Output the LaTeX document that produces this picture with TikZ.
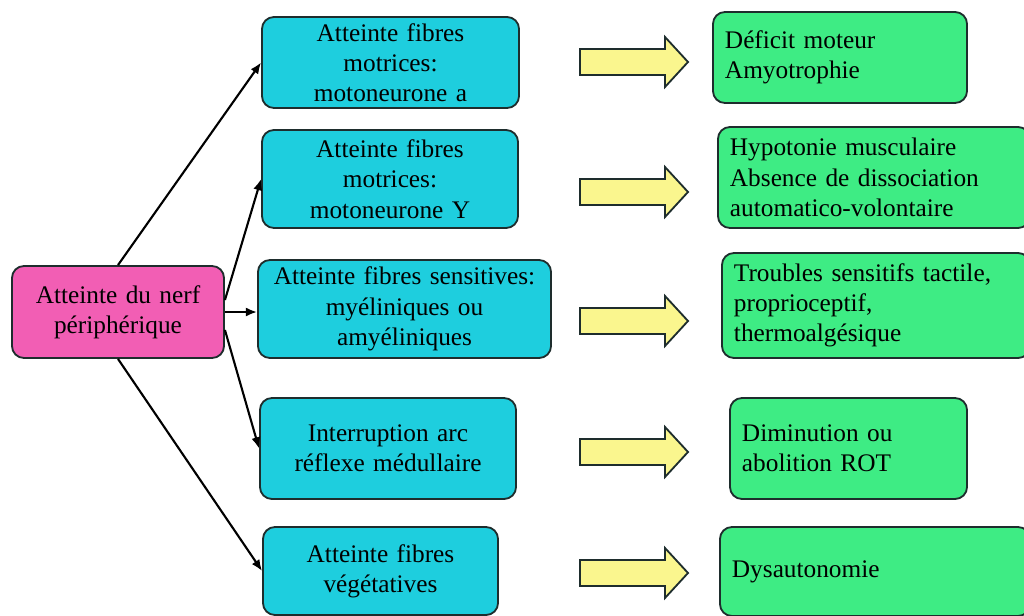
\documentclass[tikz,border=0pt]{standalone}
\usepackage{fontspec}
\setmainfont{Liberation Serif}
\usetikzlibrary{arrows.meta}

\definecolor{rose}{RGB}{242,94,180}
\definecolor{cyanbox}{RGB}{30,206,222}
\definecolor{vert}{RGB}{62,236,132}
\definecolor{jaune}{RGB}{250,246,142}
\definecolor{bord}{RGB}{30,45,45}

\begin{document}
\begin{tikzpicture}[x=0.025cm,y=-0.025cm,
    boite/.style={draw=bord,line width=1.3pt,rounded corners=0.3cm,inner xsep=0.3cm,font=\fontsize{18}{21.5}\selectfont},
    cause/.style={boite,fill=cyanbox,align=center},
    effet/.style={boite,fill=vert,align=left},
    fleche/.style={-{Latex[length=8pt,width=6.5pt]},line width=1.5pt}]
      %\draw (0,0) grid (1024,616);
      \useasboundingbox (0,0) rectangle (1024,616);
      \node [boite,fill=rose,align=center,text width=4.7cm,minimum height=2.3cm] (nerf) at (118,312) {Atteinte du nerf\\périphérique};

      \node [cause,text width=5.825cm,minimum height=2.275cm] (c1) at (390.5,62.5) {Atteinte fibres\\motrices:\\motoneurone a};
      \node [cause,text width=5.8cm,minimum height=2.45cm] (c2) at (390,179) {Atteinte fibres\\motrices:\\motoneurone Y};
      \node [cause,text width=6.725cm,minimum height=2.45cm] (c3) at (404.5,309) {Atteinte fibres sensitives:\\myéliniques ou\\amyéliniques};
      \node [cause,text width=5.8cm,minimum height=2.525cm] (c4) at (388,448.5) {Interruption arc\\réflexe médullaire};
      \node [cause,text width=5.275cm,minimum height=2.2cm] (c5) at (380.5,571) {Atteinte fibres\\végétatives};

      \node [effet,text width=5.75cm,minimum height=2.275cm] (g1) at (840,57.5) {Déficit moteur\\Amyotrophie};
      \node [effet,text width=7.2cm,minimum height=2.525cm] (g2) at (874,177.5) {Hypotonie musculaire\\Absence de dissociation\\automatico-volontaire};
      \node [effet,text width=7.1cm,minimum height=2.625cm] (g3) at (876,305.5) {Troubles sensitifs tactile,\\proprioceptif,\\thermoalgésique};
      \node [effet,text width=5.325cm,minimum height=2.525cm] (g4) at (848.5,448.5) {Diminution ou\\abolition ROT};
      \node [effet,text width=7.15cm,minimum height=2.225cm] (g5) at (875,571.5) {Dysautonomie};

      \foreach \yc in {62,192,321,452,573}
        \draw [draw=bord,fill=jaune,line width=1.3pt] (580,\yc-13) -- (665,\yc-13) -- (665,\yc-25)
          -- (688,\yc) -- (665,\yc+25) -- (665,\yc+13) -- (580,\yc+13) -- cycle;

      \draw [fleche] (nerf.north) -- (c1.west);
      \draw [fleche] ([yshift=0.3cm]nerf.east) -- (c2.west);
      \draw [fleche] (nerf.east) -- (nerf.east -| c3.west);
      \draw [fleche] ([yshift=-0.45cm]nerf.east) -- (c4.west);
      \draw [fleche] (nerf.south) -- (c5.west);
    \end{tikzpicture}
\end{document}
